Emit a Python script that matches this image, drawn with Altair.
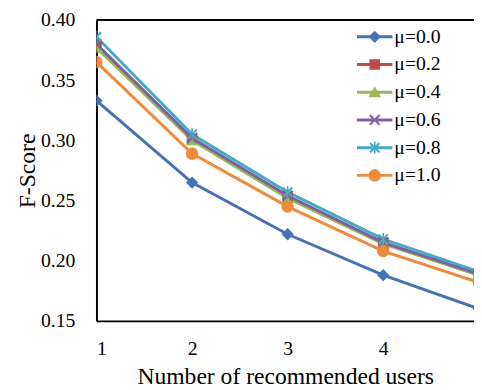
import altair as alt
import pandas as pd

# ---------------- data ----------------
x_values = [1, 2, 3, 4, 5]
series_names = ["μ=0.0", "μ=0.2", "μ=0.4", "μ=0.6", "μ=0.8", "μ=1.0"]
mu_00 = [0.333, 0.265, 0.222, 0.188, 0.160]
mu_02 = [0.379, 0.301, 0.253, 0.215, 0.188]
mu_04 = [0.377, 0.300, 0.252, 0.214, 0.188]
mu_06 = [0.380, 0.302, 0.254, 0.215, 0.189]
mu_08 = [0.386, 0.305, 0.257, 0.218, 0.191]
mu_10 = [0.365, 0.289, 0.245, 0.208, 0.182]
series_values = [mu_00, mu_02, mu_04, mu_06, mu_08, mu_10]

colors = ["#4672B4", "#BE4B48", "#98B954", "#7D60A0", "#46AAC5", "#F08A3C"]
y_ticks = [0.15, 0.20, 0.25, 0.30, 0.35, 0.40]
x_ticks = [1, 2, 3, 4]

rows = []
for name, vals in zip(series_names, series_values):
    for xv, yv in zip(x_values, vals):
        rows.append({"series": name, "users": xv, "fscore": yv})
df = pd.DataFrame(rows)

# ---------------- marker shapes (unit = 12px at size 576) ----------------
def poly(pts):
    return "M" + "L".join(f"{x:.3f},{y:.3f}" for x, y in pts) + "Z"

def xarms(a, e):
    return (poly([(-a + e, -a - e), (a + e, a - e), (a - e, a + e), (-a - e, -a + e)]) +
            poly([(a - e, -a - e), (a + e, -a + e), (-a + e, a + e), (-a - e, a - e)]))

line_bar = poly([(-1.5, -0.125), (1.5, -0.125), (1.5, 0.125), (-1.5, 0.125)])
diamond = poly([(0, -0.52), (0.52, 0), (0, 0.52), (-0.52, 0)])
square = poly([(-0.45, -0.45), (0.45, -0.45), (0.45, 0.45), (-0.45, 0.45)])
triangle = poly([(0, -0.48), (0.55, 0.42), (-0.55, 0.42)])
xmark = xarms(0.42, 0.06)
asterisk = xarms(0.40, 0.06) + poly([(-0.07, -0.52), (0.07, -0.52), (0.07, 0.52), (-0.07, 0.52)])
circle = "M-0.52,0 A0.52,0.52 0 0 1 0.52,0 A0.52,0.52 0 0 1 -0.52,0 Z"

marker_paths = [diamond, square, triangle, xmark, asterisk, circle]
legend_paths = [line_bar + p for p in marker_paths]

FONT = "Liberation Serif"

x_enc = alt.X("users:Q",
              scale=alt.Scale(domain=[1, 4.95], nice=False, zero=False),
              axis=alt.Axis(values=x_ticks, title="Number of recommended users",
                            format="d", labelPadding=18, titlePadding=7))
y_enc = alt.Y("fscore:Q",
              scale=alt.Scale(domain=[0.15, 0.40], nice=False, zero=False),
              axis=alt.Axis(values=y_ticks, format=".2f", title="F-Score",
                            labelPadding=22, titlePadding=1))
color_enc_nolegend = alt.Color("series:N",
                               scale=alt.Scale(domain=series_names, range=colors),
                               legend=None)

base = alt.Chart(df)

lines = base.mark_line(strokeWidth=3, clip=True).encode(
    x=x_enc, y=y_enc, color=color_enc_nolegend, order="users:Q"
)

points = base.mark_point(filled=True, opacity=1, size=576, clip=True).encode(
    x=x_enc, y=y_enc, color=color_enc_nolegend,
    shape=alt.Shape("series:N",
                    scale=alt.Scale(domain=series_names, range=marker_paths),
                    legend=None),
)

legend_layer = base.mark_point(filled=True, opacity=1, size=576).encode(
    x=x_enc, y=y_enc,
    color=alt.Color("series:N",
                    scale=alt.Scale(domain=series_names, range=colors),
                    legend=alt.Legend(title=None)),
    shape=alt.Shape("series:N",
                    scale=alt.Scale(domain=series_names, range=legend_paths),
                    legend=alt.Legend(title=None)),
).transform_filter("false")

top_frame = alt.Chart(pd.DataFrame({"v": [0.40]})).mark_rule(
    color="black", strokeWidth=2
).encode(y=alt.Y("v:Q"), x=alt.value(0), x2=alt.value(384))

chart = alt.layer(lines, points, legend_layer, top_frame).resolve_scale(
    shape="independent"
).resolve_legend(
    color="independent", shape="independent"
).properties(
    width=384, height=306,
    autosize=alt.AutoSizeParams(type="none"),
    padding={"left": 90, "top": 9, "right": 0, "bottom": 66},
).configure(
    font=FONT
).configure_view(
    stroke=None
).configure_axis(
    labelFont=FONT, titleFont=FONT, labelFontSize=20, titleFontSize=24,
    titleFontWeight="normal", labelColor="black", titleColor="black",
    domainColor="black", domainWidth=2, ticks=False, tickSize=0, grid=False,
).configure_legend(
    orient="none", legendX=270, legendY=4, padding=0,
    labelFont=FONT, labelFontSize=20, labelColor="black", labelOffset=7,
    rowPadding=5.2, symbolSize=576, labelLimit=300,
)

chart.save("out.html", embed_options={"renderer": "svg", "actions": False})
